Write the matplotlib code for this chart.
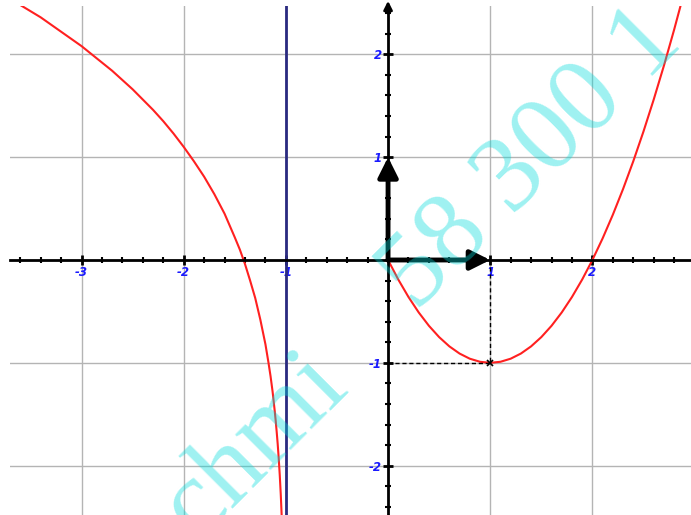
import numpy as np
import matplotlib.pyplot as plt
from matplotlib.ticker import MultipleLocator

# curve: left branch (x < -1) and right branch (x >= 0)
left_x = [-3.70, -3.60, -3.50, -3.40, -3.30, -3.20, -3.10, -3.00, -2.90, -2.80,
          -2.70, -2.60, -2.50, -2.40, -2.30, -2.20, -2.10, -2.00, -1.90, -1.80,
          -1.70, -1.60, -1.50, -1.45, -1.40, -1.35, -1.30, -1.25, -1.20, -1.17,
          -1.15, -1.13, -1.11, -1.10, -1.09, -1.08, -1.07, -1.06, -1.05, -1.04, -1.03]
left_y = [2.54, 2.48, 2.42, 2.36, 2.29, 2.22, 2.15, 2.08, 2.00, 1.92,
          1.84, 1.75, 1.66, 1.56, 1.46, 1.35, 1.23, 1.10, 0.96, 0.81,
          0.64, 0.45, 0.22, 0.10, -0.04, -0.20, -0.37, -0.58, -0.82, -1.00,
          -1.13, -1.28, -1.46, -1.56, -1.67, -1.79, -1.93, -2.09, -2.28, -2.51, -2.80]

right_x = [0.0, 0.1, 0.2, 0.3, 0.4, 0.5, 0.6, 0.7, 0.8, 0.9, 1.0,
           1.1, 1.2, 1.3, 1.4, 1.5, 1.6, 1.7, 1.8, 1.9, 2.0,
           2.1, 2.2, 2.3, 2.4, 2.5, 2.6, 2.7, 2.8, 2.9]
right_y = [0.0, -0.19, -0.36, -0.51, -0.64, -0.75, -0.84, -0.91, -0.96, -0.99, -1.0,
           -0.99, -0.96, -0.91, -0.84, -0.75, -0.64, -0.51, -0.36, -0.19, 0.0,
           0.21, 0.44, 0.69, 0.96, 1.25, 1.56, 1.89, 2.24, 2.61]

asymptote_x = -1
vertex = (1, -1)
x_ticks = [-3, -2, -1, 1, 2]
y_ticks = [-2, -1, 1, 2]
watermark_parts = ["chmi", "58 300 1"]

fig = plt.figure(figsize=(6.91, 5.15), dpi=100)
ax = fig.add_axes([10 / 691, 0, 681 / 691, 509 / 515])
ax.set_xlim(-3.70, 2.965)
ax.set_ylim(-2.48, 2.47)

# grid
for v in range(-3, 3):
    ax.axvline(v, color="#b4b4b4", lw=1, zorder=0)
for v in range(-2, 3):
    ax.axhline(v, color="#b4b4b4", lw=1, zorder=0)

# axes through the origin
for s in ["top", "right"]:
    ax.spines[s].set_visible(False)
ax.spines["left"].set_position(("data", 0))
ax.spines["bottom"].set_position(("data", 0))
ax.spines["left"].set_linewidth(2)
ax.spines["bottom"].set_linewidth(2)
ax.spines["left"].set_zorder(3)
ax.spines["bottom"].set_zorder(3)

ax.set_xticks(x_ticks, [str(t) for t in x_ticks])
ax.set_yticks(y_ticks, [str(t) for t in y_ticks])
ax.xaxis.set_minor_locator(MultipleLocator(0.2))
ax.yaxis.set_minor_locator(MultipleLocator(0.2))
ax.tick_params(which="major", direction="inout", length=7, width=2, pad=1,
               labelsize=8.5, labelcolor="#1a1aff")
ax.tick_params(which="minor", direction="inout", length=5, width=1.5)
for lab in ax.get_xticklabels() + ax.get_yticklabels():
    lab.set_fontweight("bold")
    lab.set_fontstyle("italic")

# arrow tip on top of y axis
ax.annotate("", xy=(0, 2.52), xytext=(0, 2.40), annotation_clip=False,
            arrowprops=dict(arrowstyle="-|>,head_length=0.5,head_width=0.25",
                            color="black", lw=2, mutation_scale=10,
                            shrinkA=0, shrinkB=0))

# function graph and asymptote
ax.axvline(asymptote_x, color="#2a2a80", lw=2, zorder=2)
ax.plot(left_x, left_y, color="#ff2020", lw=1.5, zorder=2)
ax.plot(right_x, right_y, color="#ff2020", lw=1.5, zorder=2)

# projections of the minimum
ax.plot([vertex[0], vertex[0]], [0, vertex[1]], color="black", lw=1,
        dashes=(3, 2), zorder=2)
ax.plot([0, vertex[0]], [vertex[1], vertex[1]], color="black", lw=1,
        dashes=(3, 2), zorder=2)
ax.plot(*vertex, marker="x", color="black", ms=5, mew=1.2, zorder=4)

# unit vectors
for tip in [(1, 0), (0, 1)]:
    ax.annotate("", xy=tip, xytext=(0, 0),
                arrowprops=dict(arrowstyle="-|>,head_length=0.6,head_width=0.3",
                                color="black", lw=3.5, mutation_scale=20,
                                shrinkA=0, shrinkB=0), zorder=5)

# watermark, two pieces along the same diagonal
for txt, pos in zip(watermark_parts, [(-1.30, -1.80), (1.41, 0.97)]):
    ax.text(pos[0], pos[1], txt, family="Liberation Serif", fontsize=78,
            color="#00dcdc", alpha=0.38, rotation=45, rotation_mode="anchor",
            ha="center", va="center", zorder=6, clip_on=False)

fig.savefig("out.png", dpi=100)
